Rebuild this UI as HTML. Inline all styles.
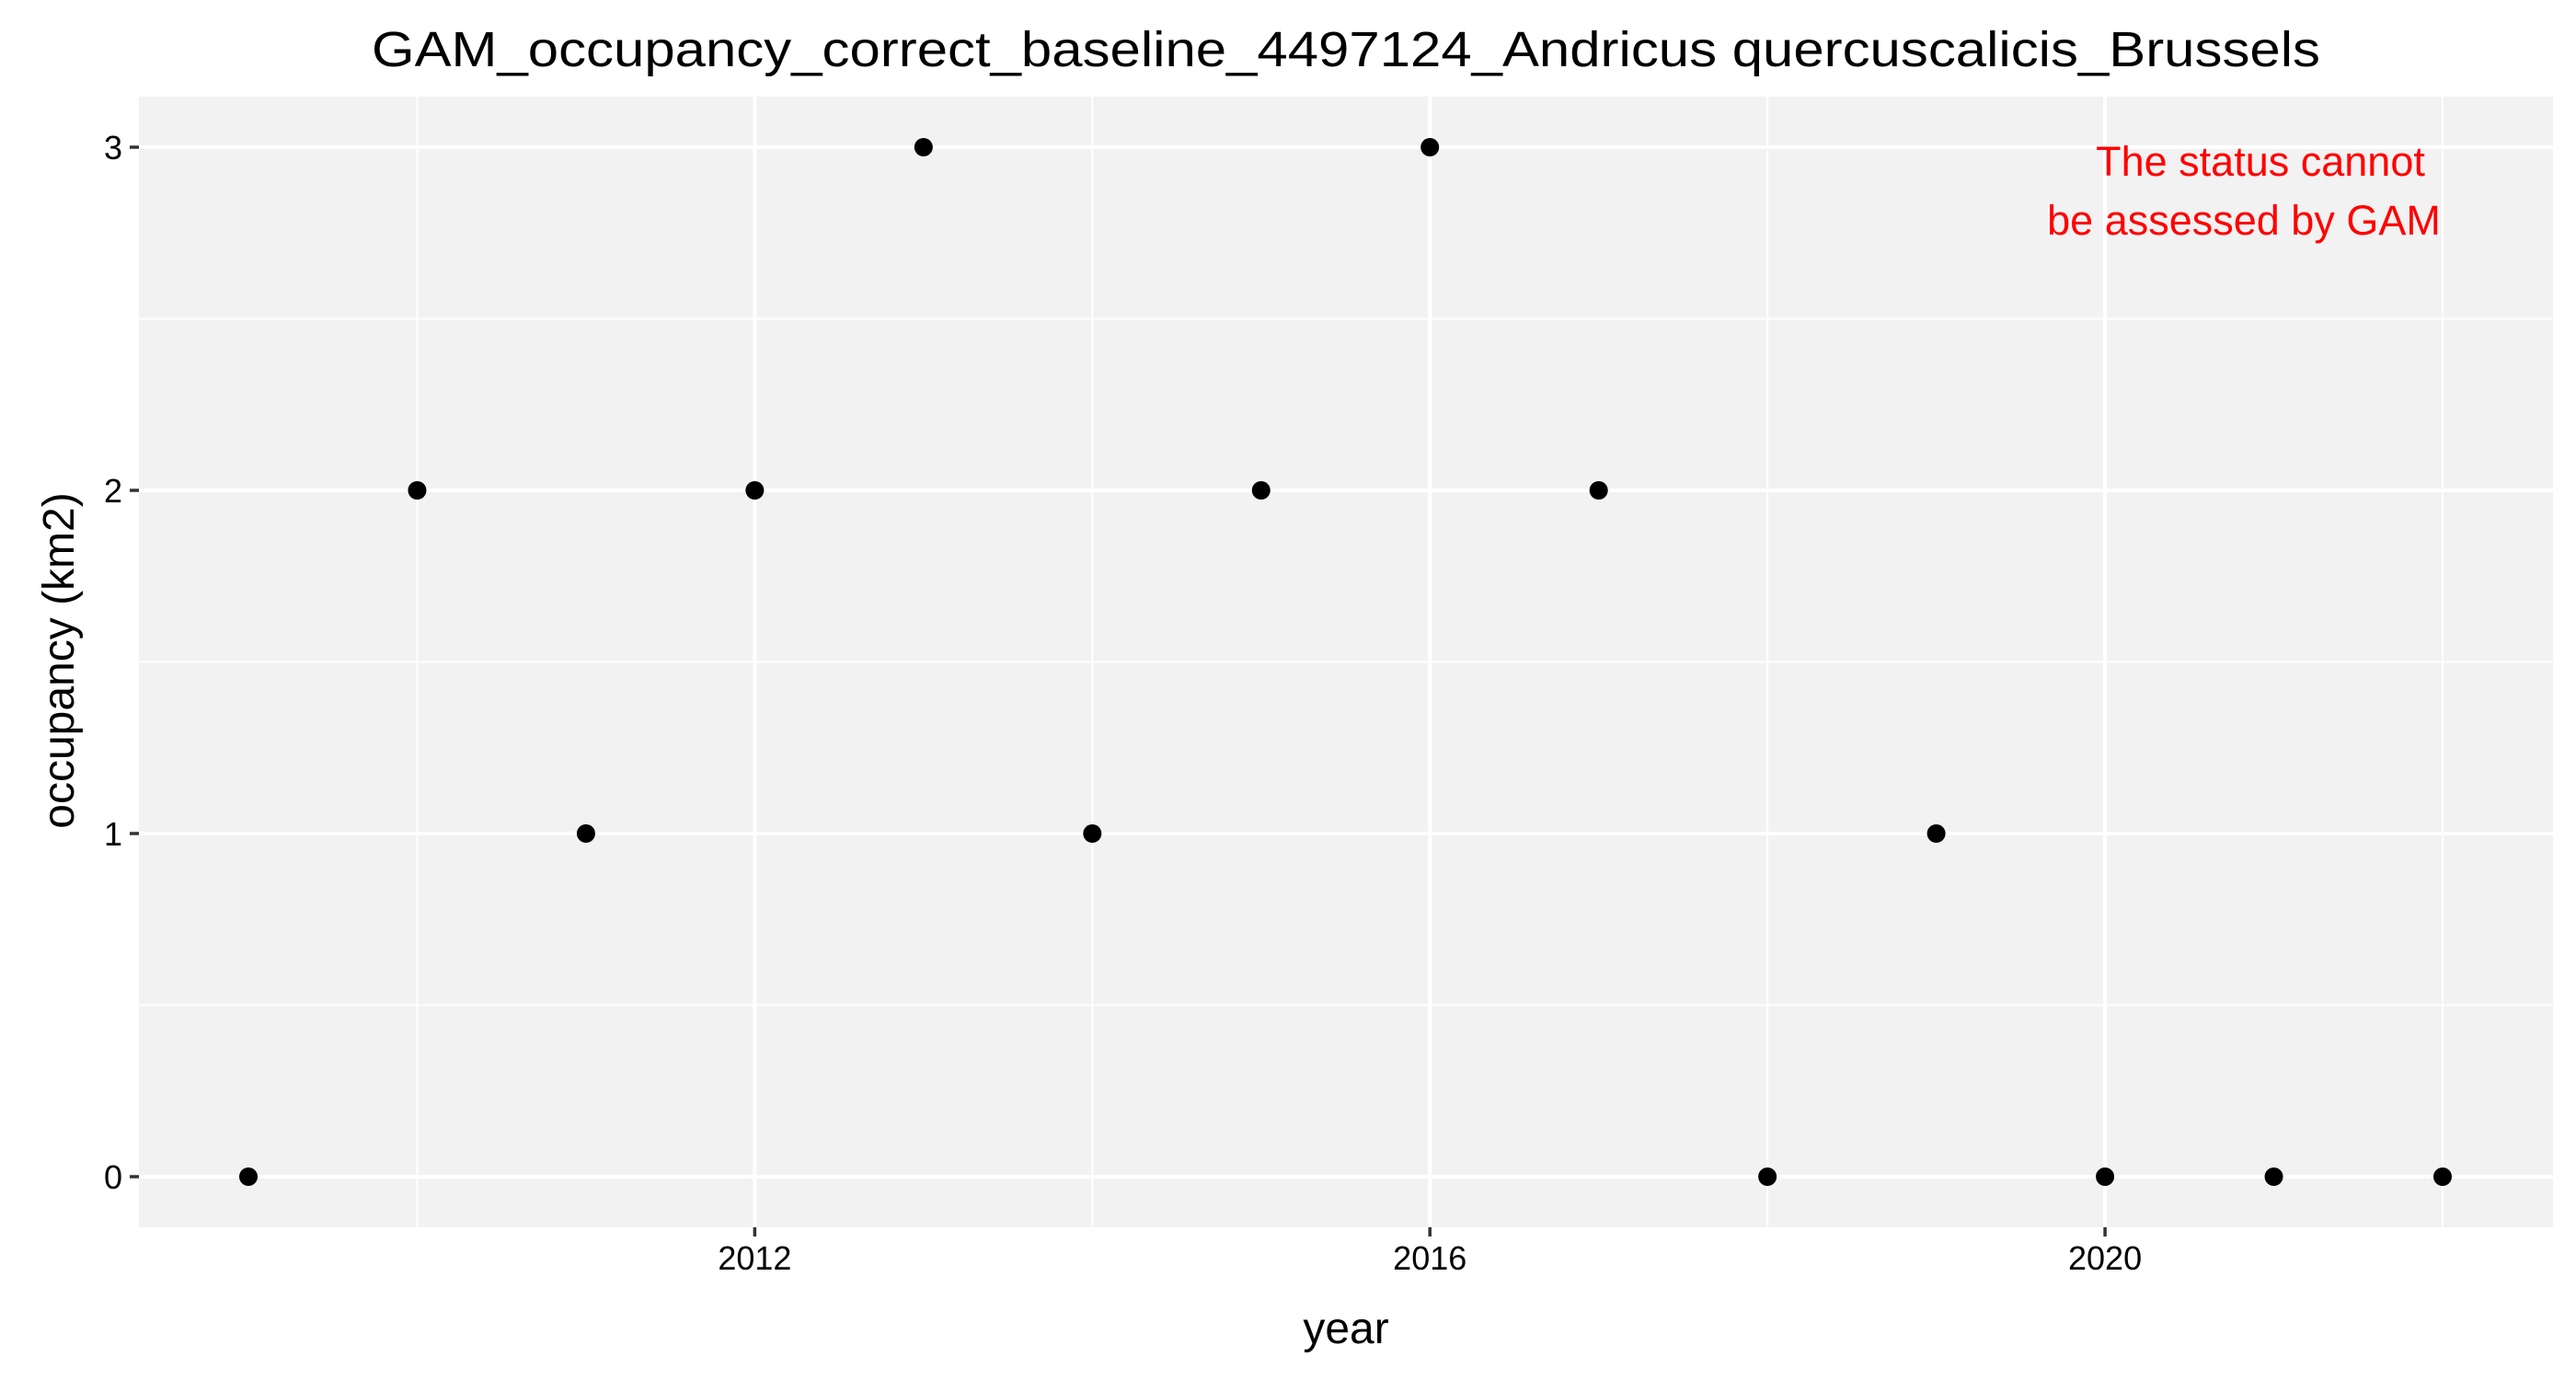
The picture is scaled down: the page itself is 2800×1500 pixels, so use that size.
<!DOCTYPE html>
<html><head><meta charset="utf-8"><style>
html,body{margin:0;padding:0;background:#fff;}
svg{display:block;font-family:"Liberation Sans",Arial,sans-serif;}
</style></head><body>
<svg id="chart" width="2800" height="1500" viewBox="0 0 2800 1500" xmlns="http://www.w3.org/2000/svg">
<rect x="0" y="0" width="2800" height="1500" fill="#ffffff"/>
<text x="1463" y="72" font-size="54" text-anchor="middle" textLength="2118" lengthAdjust="spacingAndGlyphs">GAM_occupancy_correct_baseline_4497124_Andricus quercuscalicis_Brussels</text>
<rect x="151" y="105" width="2624" height="1229" fill="#f2f2f2"/>
<g id="grid"></g>
<g id="ticks"></g>
<g id="points"></g>
<text x="1463" y="1460" font-size="48" text-anchor="middle">year</text>
<text x="0" y="0" font-size="48" text-anchor="middle" transform="translate(80,718) rotate(-90)">occupancy (km2)</text>
<text x="2457" y="191" font-size="45" fill="#ff0000" text-anchor="middle">The status cannot</text>
<text x="2439" y="255" font-size="45" fill="#ff0000" text-anchor="middle">be assessed by GAM</text>
</svg>
<script>
const years = [2009,2010,2011,2012,2013,2014,2015,2016,2017,2018,2019,2020,2021,2022];
const occupancy = [0,2,1,2,3,1,2,3,2,0,1,0,0,0];
const xTicks = [2012,2016,2020];
const xMinor = [2010,2014,2018,2022];
const yTicks = [0,1,2,3];
const yMinor = [0.5,1.5,2.5];

const NS = "http://www.w3.org/2000/svg";
const X0 = 2009, XPX0 = 270, XPX1 = 2655, X1 = 2022;
const Y0PX = 1279, Y3PX = 160;
const PL = 151, PR = 2775, PT = 105, PB = 1334;
function sx(v){ return XPX0 + (v - X0) * (XPX1 - XPX0) / (X1 - X0); }
function sy(v){ return Y0PX + v * (Y3PX - Y0PX) / 3; }
function mk(tag, attrs, parent){
  const e = document.createElementNS(NS, tag);
  for (const k in attrs) e.setAttribute(k, attrs[k]);
  parent.appendChild(e);
  return e;
}
const grid = document.getElementById('grid');
const ticks = document.getElementById('ticks');
const pts = document.getElementById('points');

yMinor.forEach(v => {
  const l = mk('line', {x1:PL, x2:PR, y1:sy(v), y2:sy(v), stroke:'#ffffff', 'stroke-width':2}, grid);
  
  
});
xMinor.forEach(v => {
  const l = mk('line', {x1:sx(v), x2:sx(v), y1:PT, y2:PB, stroke:'#ffffff', 'stroke-width':2}, grid);
  
  
});
yTicks.forEach(v => {
  const l = mk('line', {x1:PL, x2:PR, y1:sy(v), y2:sy(v), stroke:'#ffffff', 'stroke-width':4}, grid);
  
  
  const t = mk('line', {x1:PL-10, x2:PL, y1:sy(v), y2:sy(v), stroke:'#333333', 'stroke-width':3.5}, ticks);
  
  
  const tx = mk('text', {x:PL-18, y:sy(v)+13, 'font-size':36, 'text-anchor':'end', fill:'#000'}, ticks);
  tx.textContent = v;
  
  
});
xTicks.forEach(v => {
  const l = mk('line', {x1:sx(v), x2:sx(v), y1:PT, y2:PB, stroke:'#ffffff', 'stroke-width':4}, grid);
  
  
  const t = mk('line', {x1:sx(v), x2:sx(v), y1:PB, y2:PB+10, stroke:'#333333', 'stroke-width':3.5}, ticks);
  
  
  const tx = mk('text', {x:sx(v), y:PB+46, 'font-size':36, 'text-anchor':'middle', fill:'#000'}, ticks);
  tx.textContent = v;
  
  
});
years.forEach((yr, i) => {
  const c = mk('circle', {cx:sx(yr), cy:sy(occupancy[i]), r:10, fill:'#000'}, pts);
  
  
});
</script>
</body></html>
